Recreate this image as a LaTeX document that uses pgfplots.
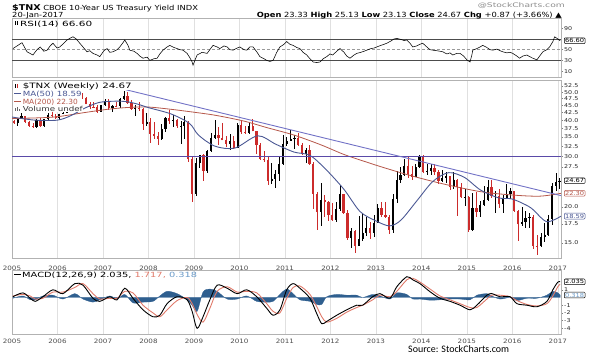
\documentclass[border=0pt]{standalone}
\usepackage{pgfplots}
\pgfplotsset{compat=1.18}
\usepackage{pgfplotstable}
\usepackage{graphicx}
\usepackage{fontspec}
\setmainfont[FakeStretch=1.2]{DejaVu Sans}
\newfontfamily\carlito{Carlito}
\definecolor{ma50}{HTML}{4B5894}
\definecolor{ma200}{HTML}{B5574A}
\definecolor{trend}{HTML}{7272C6}
\definecolor{hline}{HTML}{5A4AA8}
\definecolor{down}{HTML}{CC2B2B}
\definecolor{sig}{HTML}{E07A6A}
\definecolor{hist}{HTML}{2F5F8F}
\definecolor{histlbl}{HTML}{6A9AC8}
\newcommand\fit[3]{\resizebox{#1bp}{#2bp}{\fontsize{7}{8}\selectfont #3}}

\pgfplotstableread{
t o h l c
2005.04 39.8 40.1 38.8 39.0
2005.125 39.0 40.8 38.2 40.5
2005.21 40.5 42.2 40.3 41.3
2005.29 41.3 41.4 39.1 39.5
2005.375 39.5 39.8 38.1 38.2
2005.46 38.2 39.2 37.5 37.8
2005.54 37.8 40.3 37.7 40.0
2005.625 40.0 40.7 38.2 38.3
2005.71 38.3 40.3 38.0 40.3
2005.79 40.3 42.3 40.1 41.8
2005.875 41.8 42.6 41.0 41.4
2005.96 41.4 41.9 40.6 40.7
2006.04 40.7 42.1 40.0 42.1
2006.125 42.1 43.3 41.9 42.5
2006.21 42.5 45.9 42.5 45.6
2006.29 45.6 48.6 45.5 48.0
2006.375 48.0 49.7 47.9 49.2
2006.46 49.2 49.9 47.6 49.3
2006.54 49.3 49.8 47.5 47.9
2006.625 47.9 48.2 45.4 45.4
2006.71 45.4 46.2 43.8 44.4
2006.79 44.4 46.4 43.9 44.3
2006.875 44.3 45.0 42.6 42.8
2006.96 42.8 45.3 42.6 45.1
2007.04 45.1 47.5 44.8 46.6
2007.125 46.6 47.3 43.3 44.0
2007.21 44.0 45.3 42.8 44.9
2007.29 44.9 46.1 44.3 44.7
2007.375 44.7 47.6 44.2 47.2
2007.46 47.2 50.6 47.0 48.4
2007.54 48.4 50.0 45.8 46.0
2007.625 46.0 46.8 43.3 43.8
2007.71 43.8 45.2 41.3 44.2
2007.79 44.2 46.3 43.0 43.8
2007.875 43.8 44.0 36.9 38.7
2007.96 38.7 42.4 38.1 39.5
2008.04 39.5 40.7 33.3 35.9
2008.125 35.9 39.3 34.3 35.2
2008.21 35.2 36.3 32.8 34.5
2008.29 34.5 38.9 34.2 37.3
2008.375 37.3 41.1 36.5 40.6
2008.46 40.6 43.2 38.9 39.7
2008.54 39.7 41.8 37.8 39.9
2008.625 39.9 40.3 37.6 38.1
2008.71 38.1 39.8 33.1 38.3
2008.79 38.3 41.3 34.5 39.4
2008.875 39.4 39.6 28.7 29.3
2008.96 29.3 29.7 20.8 22.2
2009.04 22.2 29.5 21.8 28.5
2009.125 28.5 30.3 27.2 30.2
2009.21 30.2 30.6 24.7 26.7
2009.29 26.7 31.6 26.2 31.3
2009.375 31.3 36.2 31.0 34.7
2009.46 34.7 40.0 34.4 35.4
2009.54 35.4 37.9 32.9 34.8
2009.625 34.8 39.0 34.0 34.0
2009.71 34.0 35.2 32.2 33.1
2009.79 33.1 35.8 31.5 33.9
2009.875 33.9 35.3 31.8 32.0
2009.96 32.0 39.1 32.0 38.4
2010.04 38.4 39.9 35.8 36.3
2010.125 36.3 38.3 35.7 36.1
2010.21 36.1 39.3 35.7 38.3
2010.29 38.3 40.2 36.6 36.6
2010.375 36.6 36.8 30.6 32.9
2010.46 32.9 33.4 29.0 29.3
2010.54 29.3 31.3 28.7 29.0
2010.625 29.0 29.9 23.9 24.7
2010.71 24.7 28.4 24.0 25.1
2010.79 25.1 26.9 23.3 26.0
2010.875 26.0 30.0 24.7 28.1
2010.96 28.1 35.5 27.9 33.0
2011.04 33.0 35.1 32.5 33.8
2011.125 33.8 37.0 33.8 34.3
2011.21 34.3 35.6 31.7 34.7
2011.29 34.7 36.0 32.8 32.9
2011.375 32.9 33.3 30.3 30.6
2011.46 30.6 31.9 28.4 31.6
2011.54 31.6 32.8 27.9 28.2
2011.625 28.2 28.6 19.7 22.2
2011.71 22.2 22.6 16.7 19.2
2011.79 19.2 24.2 17.2 21.2
2011.875 21.2 22.0 18.5 20.8
2011.96 20.8 21.0 17.9 18.8
2012.04 18.8 20.6 17.9 18.0
2012.125 18.0 20.8 17.8 19.7
2012.21 19.7 23.9 19.3 22.1
2012.29 22.1 22.2 18.9 19.1
2012.375 19.1 19.6 15.4 15.6
2012.46 15.6 16.9 14.4 16.5
2012.54 16.5 16.7 13.8 14.7
2012.625 14.7 18.6 14.6 15.5
2012.71 15.5 19.0 15.3 16.3
2012.79 16.3 18.5 15.9 16.9
2012.875 16.9 17.8 15.5 16.2
2012.96 16.2 18.8 15.8 17.6
2013.04 17.6 20.4 17.6 19.9
2013.125 19.9 20.8 18.4 18.8
2013.21 18.8 20.8 18.3 18.5
2013.29 18.5 18.7 16.1 16.7
2013.375 16.7 22.2 16.2 21.3
2013.46 21.3 26.6 20.6 24.9
2013.54 24.9 27.5 24.3 25.8
2013.625 25.8 29.3 25.6 27.8
2013.71 27.8 30.1 25.2 26.1
2013.79 26.1 27.8 24.8 25.5
2013.875 25.5 28.1 25.4 27.5
2013.96 27.5 30.2 27.4 30.0
2014.04 30.0 30.4 26.3 26.4
2014.125 26.4 28.2 25.8 26.6
2014.21 26.6 28.1 25.8 27.2
2014.29 27.2 28.1 25.8 26.5
2014.375 26.5 26.8 24.1 24.7
2014.46 24.7 26.9 24.4 25.3
2014.54 25.3 26.5 24.2 25.6
2014.625 25.6 25.7 22.9 23.4
2014.71 23.4 26.4 23.0 24.9
2014.79 24.9 25.0 18.6 23.4
2014.875 23.4 24.2 21.5 21.6
2014.96 21.6 23.0 20.2 21.7
2015.04 21.7 21.8 16.4 16.6
2015.125 16.6 22.4 16.5 19.9
2015.21 19.9 22.5 18.5 19.2
2015.29 19.2 20.9 18.4 20.3
2015.375 20.3 23.6 20.1 21.2
2015.46 21.2 24.9 21.0 23.5
2015.54 23.5 24.8 21.4 21.8
2015.625 21.8 22.7 19.0 21.9
2015.71 21.9 23.0 19.9 20.4
2015.79 20.4 22.0 19.0 21.4
2015.875 21.4 24.0 21.3 22.1
2015.96 22.1 23.2 21.3 22.7
2016.04 22.7 22.8 19.3 19.4
2016.125 19.4 19.6 15.3 17.4
2016.21 17.4 20.0 17.2 17.7
2016.29 17.7 19.4 16.9 18.3
2016.375 18.3 19.0 16.9 18.5
2016.46 18.5 18.8 14.3 14.7
2016.54 14.7 16.0 13.6 14.6
2016.625 14.6 16.3 14.5 15.8
2016.71 15.8 17.6 15.1 16.0
2016.79 16.0 18.7 15.9 18.2
2016.875 18.2 24.3 17.3 23.7
2016.96 23.7 26.2 22.7 24.4
2017.035 24.4 25.3 23.1 24.67
}\price

\pgfplotstableread{
t v
2005.00 41.0
2005.50 40.0
2006.00 40.0
2006.30 41.5
2006.60 44.0
2006.90 46.0
2007.20 46.5
2007.50 46.4
2007.75 45.5
2008.00 44.2
2008.50 42.0
2008.90 39.0
2009.10 35.5
2009.46 32.5
2009.90 32.0
2010.40 35.3
2010.80 33.0
2011.20 31.0
2011.55 30.2
2011.90 27.0
2012.30 23.0
2012.65 19.3
2013.00 17.9
2013.30 17.2
2013.55 18.0
2013.90 21.0
2014.25 24.5
2014.60 26.3
2014.95 25.3
2015.30 22.9
2015.70 21.5
2016.00 21.3
2016.40 19.9
2016.75 17.8
2017.07 18.59
}\mafifty

\pgfplotstableread{
t v
2005.00 40.5
2005.70 40.8
2006.05 41.2
2006.60 42.5
2007.15 43.7
2007.60 44.3
2008.00 44.4
2008.50 43.6
2009.10 42.4
2009.50 41.5
2010.10 39.7
2010.60 37.7
2011.20 35.5
2011.80 32.8
2012.30 30.4
2012.80 28.6
2013.20 27.3
2013.80 25.6
2014.50 24.0
2015.30 22.6
2016.00 22.0
2016.60 21.8
2017.07 22.3
}\matwohundred

\pgfplotstableread{
t v
2005.02 52
2005.13 58
2005.22 63
2005.33 46
2005.46 40
2005.55 50
2005.62 55
2005.70 47
2005.77 49
2005.84 57
2005.90 62
2005.99 53
2006.05 55
2006.14 62
2006.21 68
2006.27 71
2006.34 74
2006.41 70
2006.49 62
2006.58 53
2006.65 46
2006.71 48
2006.78 43
2006.87 40
2006.93 37
2007.02 48
2007.09 52
2007.15 45
2007.22 46
2007.31 50
2007.37 55
2007.44 63
2007.48 68
2007.55 58
2007.59 49
2007.68 47
2007.75 43
2007.81 38
2007.88 34
2007.97 36
2008.03 30
2008.12 33
2008.19 34
2008.25 42
2008.32 49
2008.41 55
2008.47 58
2008.56 54
2008.63 52
2008.69 50
2008.76 49
2008.85 43
2008.91 35
2008.96 27
2008.98 21
2009.02 30
2009.07 40
2009.18 45
2009.29 43
2009.35 50
2009.42 58
2009.51 55
2009.57 52
2009.66 57
2009.73 55
2009.79 50
2009.86 49
2009.95 53
2010.01 55
2010.10 50
2010.16 49
2010.23 55
2010.30 55
2010.38 46
2010.45 37
2010.54 33
2010.60 30
2010.67 28
2010.74 30
2010.82 45
2010.89 55
2010.98 60
2011.04 65
2011.11 60
2011.18 58
2011.26 54
2011.33 52
2011.40 45
2011.48 40
2011.55 33
2011.62 27
2011.70 26
2011.77 27
2011.84 33
2011.92 37
2011.99 42
2012.05 40
2012.14 47
2012.21 52
2012.30 45
2012.36 38
2012.43 34
2012.52 40
2012.58 43
2012.67 45
2012.74 47
2012.80 49
2012.89 52
2012.96 53
2013.02 55
2013.11 58
2013.18 60
2013.24 62
2013.33 66
2013.40 70
2013.46 71
2013.55 69
2013.62 67
2013.68 68
2013.75 62
2013.81 55
2013.90 57
2013.97 60
2014.03 62
2014.12 55
2014.19 50
2014.25 49
2014.34 48
2014.41 47
2014.47 46
2014.56 42
2014.63 44
2014.69 40
2014.78 43
2014.85 43
2014.93 38
2015.00 31
2015.07 27
2015.11 40
2015.13 49
2015.22 52
2015.29 55
2015.35 58
2015.44 54
2015.51 50
2015.57 49
2015.66 51
2015.73 48
2015.79 46
2015.88 44
2015.95 45
2016.01 43
2016.10 38
2016.16 34
2016.23 38
2016.32 40
2016.38 37
2016.45 34
2016.54 31
2016.60 38
2016.67 46
2016.76 50
2016.82 55
2016.89 65
2016.93 74
2017.00 70
2017.05 66.6
}\rsi

\pgfplotstableread{
t m s h
2005.02 0.1 0.2 -0.1
2005.24 0.6 0.4 0.2
2005.40 -0.1 0.2 -0.3
2005.51 -0.5 -0.2 -0.3
2005.68 0.1 -0.1 0.2
2005.90 1.0 0.7 0.3
2006.12 0.5 0.7 -0.2
2006.38 1.8 1.3 0.5
2006.56 1.6 1.8 -0.2
2006.78 -0.1 0.5 -0.6
2006.93 -0.5 -0.2 -0.3
2007.15 0.1 -0.1 0.2
2007.31 -0.3 -0.1 -0.2
2007.48 1.2 0.8 0.4
2007.66 -0.1 0.6 -0.7
2007.88 -1.6 -1.0 -0.6
2008.10 -2.5 -2.0 -0.5
2008.25 -2.3 -2.5 0.2
2008.41 -0.8 -1.6 0.8
2008.63 0.1 -0.4 0.5
2008.85 -0.3 0.0 -0.3
2008.96 -1.8 -0.8 -1.0
2009.07 -4.0 -2.2 -1.8
2009.20 -2.5 -3.2 0.7
2009.35 -0.3 -1.4 1.1
2009.51 1.6 0.8 0.8
2009.73 1.2 1.4 -0.2
2009.95 0.5 0.7 -0.2
2010.16 1.0 0.8 0.2
2010.38 0.1 0.6 -0.5
2010.60 -1.4 -0.8 -0.6
2010.74 -2.3 -1.8 -0.5
2010.89 -1.6 -2.0 0.4
2011.04 1.0 -0.1 1.1
2011.18 1.8 1.3 0.5
2011.33 1.2 1.5 -0.3
2011.55 -0.1 0.4 -0.5
2011.70 -2.1 -1.2 -0.9
2011.81 -3.4 -2.5 -0.9
2011.92 -3.1 -3.2 0.1
2012.14 -2.3 -2.7 0.4
2012.36 -1.6 -1.9 0.3
2012.58 -1.0 -1.3 0.3
2012.71 -1.0 -1.0 0.0
2012.93 0.1 -0.3 0.4
2013.09 0.5 0.3 0.2
2013.31 -0.1 0.1 -0.2
2013.46 1.4 0.8 0.6
2013.68 2.7 2.3 0.4
2013.81 2.3 2.5 -0.2
2013.97 1.8 2.0 -0.2
2014.19 0.75 1.1 -0.35
2014.41 -0.1 0.2 -0.3
2014.63 -0.5 -0.3 -0.2
2014.85 -1.0 -0.8 -0.2
2015.07 -1.6 -1.3 -0.3
2015.22 -1.0 -1.3 0.3
2015.44 0.3 -0.2 0.5
2015.55 0.5 0.3 0.2
2015.73 0.1 0.3 -0.2
2015.95 0.1 0.1 0.0
2016.10 -0.8 -0.4 -0.4
2016.32 -1.0 -0.9 -0.1
2016.54 -1.2 -1.1 -0.1
2016.76 -0.5 -0.8 0.3
2016.89 1.0 0.2 0.8
2017.00 2.0 1.4 0.6
2017.05 2.035 1.717 0.318
}\macd

\pgfplotsset{
  panel/.style={scale only axis, width=549bp, xmin=2005, xmax=2017.07,
    axis line style={draw=black!30, line width=0.5bp},
    xmajorgrids, grid style={draw=black!12, line width=0.4bp},
    xtick={2005,2006,2007,2008,2009,2010,2011,2012,2013,2014,2015,2016,2017},
    xtick style={draw=none},
    ytick pos=right, yticklabel pos=right,
    ytick style={draw=black!50, line width=0.4bp},
    major tick length=2bp, tick align=outside,
    yticklabel style={font=\fontsize{5.3}{6}\selectfont, text=black!85, inner sep=1bp},
    xticklabel style={font=\fontsize{6}{7}\selectfont, text=black!70},
    clip mode=individual},
}
\tikzset{
  labbox/.style={draw=#1, text=#1, fill=white, rounded corners=1bp, inner sep=0.8bp,
    anchor=west, xshift=3bp, font=\fontsize{5.6}{6}\selectfont, line width=0.5bp},
  leg/.style={anchor=base west, inner sep=0.6bp, fill=white},
}

\begin{document}
\begin{tikzpicture}[x=1bp,y=1bp]
\path[use as bounding box] (0,0) rectangle (595,357);

% ---------------- RSI panel
\begin{axis}[panel, at={(12bp,280bp)}, anchor=south west, height=59bp,
  ymin=-1, ymax=109, ytick={10,30,50,90}, yticklabels={10,30,50,90},
  xticklabels={}]
\addplot[black!70, line width=0.6bp] coordinates {(2005,70) (2017.07,70)};
\addplot[black!70, line width=0.6bp] coordinates {(2005,30) (2017.07,30)};
\addplot[black!40, line width=0.5bp, dash pattern=on 3bp off 2bp] coordinates {(2005,50) (2017.07,50)};
\addplot[black, line width=0.55bp] table[x=t,y=v] {\rsi};
\node[labbox=black] at (axis cs:2017.07,66.6) {66.60};
\end{axis}

% ---------------- Price panel
\begin{axis}[panel, at={(12bp,99bp)}, anchor=south west, height=178bp,
  ymode=log, ymin=13.31, ymax=55.1, yminorticks=false,
  ytick={15,17.5,20,27.5,30,32.5,35,37.5,40,42.5,45,47.5,50,52.5},
  yticklabels={15.0,17.5,20.0,27.5,30.0,32.5,35.0,37.5,40.0,42.5,45.0,47.5,50.0,52.5},
  xticklabels={2005,2006,2007,2008,2009,2010,2011,2012,2013,2014,2015,2016,2017},
  xticklabel style={yshift=-3bp}]
% up candles
\addplot[draw=none, restrict expr to domain={\thisrow{c}-\thisrow{o}}{0:1000},
  error bars/.cd, y dir=both, y explicit, error mark=none,
  error bar style={line width=0.5bp, draw=black}]
  table[x=t, y=c, y error plus expr=\thisrow{h}-\thisrow{c}, y error minus expr=\thisrow{c}-\thisrow{l}] {\price};
\addplot[draw=none, restrict expr to domain={\thisrow{c}-\thisrow{o}}{0:1000},
  error bars/.cd, y dir=minus, y explicit, error mark=none,
  error bar style={line width=2.2bp, draw=black}]
  table[x=t, y=c, y error minus expr=\thisrow{c}-\thisrow{o}] {\price};
% down candles
\addplot[draw=none, restrict expr to domain={\thisrow{c}-\thisrow{o}}{-1000:-0.00001},
  error bars/.cd, y dir=both, y explicit, error mark=none,
  error bar style={line width=0.5bp, draw=down}]
  table[x=t, y=c, y error plus expr=\thisrow{h}-\thisrow{c}, y error minus expr=\thisrow{c}-\thisrow{l}] {\price};
\addplot[draw=none, restrict expr to domain={\thisrow{c}-\thisrow{o}}{-1000:-0.00001},
  error bars/.cd, y dir=plus, y explicit, error mark=none,
  error bar style={line width=2.2bp, draw=down}]
  table[x=t, y=c, y error plus expr=\thisrow{o}-\thisrow{c}] {\price};
% moving averages and lines
\addplot[ma200, line width=0.8bp, smooth] table[x=t,y=v] {\matwohundred};
\addplot[ma50, line width=0.9bp, smooth] table[x=t,y=v] {\mafifty};
\addplot[hline, line width=0.8bp] coordinates {(2005,30) (2017.07,30)};
\addplot[trend, line width=0.9bp] coordinates {(2007.5,51.0) (2017.07,21.9)};
\node[labbox=black] at (axis cs:2017.07,24.67) {24.67};
\node[labbox=ma200] at (axis cs:2017.07,22.30) {22.30};
\node[labbox=ma50] at (axis cs:2017.07,18.59) {18.59};
\end{axis}

% ---------------- MACD panel
\begin{axis}[panel, at={(12bp,23bp)}, anchor=south west, height=64bp,
  ymin=-4.74, ymax=3.57, ytick={-4,-3,-2,-1,1}, yticklabels={-4,-3,-2,-1,1},
  xticklabels={2005,2006,2007,2008,2009,2010,2011,2012,2013,2014,2015,2016,2017}]
\addplot[fill=hist, draw=hist, line width=0.3bp, smooth] table[x=t,y=h] {\macd} \closedcycle;
\addplot[sig, line width=0.9bp, smooth] table[x=t,y=s] {\macd};
\addplot[black, line width=0.9bp, smooth] table[x=t,y=m] {\macd};
\node[labbox=black] at (axis cs:2017.07,2.035) {2.035};
\node[labbox=black, text=histlbl] at (axis cs:2017.07,0.318) {0.318};
\end{axis}

% ---------------- header texts
\node[anchor=base west, inner sep=0] at (12,347) {{\fontsize{8}{9}\selectfont\bfseries \$TNX}\hspace{2.5bp}{\fontsize{7}{8}\selectfont CBOE 10-Year US Treasury Yield INDX}};
\node[anchor=base west, inner sep=0] at (12,339.5) {\fontsize{7}{8}\selectfont 20-Jan-2017};
\node[anchor=base east, inner sep=0, text=black!45] at (565,349) {\fit{87}{4.8}{@StockCharts.com}};
\node[anchor=base east, inner sep=0] at (562,339.7) {\fit{305}{5.4}{\textbf{Open} 23.33 \textbf{High} 25.13 \textbf{Low} 23.13 \textbf{Close} 24.67 \textbf{Chg} +0.87 (+3.66\%) ▲}};

% RSI legend
\fill[black] (15,331.5) rectangle (16.2,335.5);
\fill[black] (17.2,332) rectangle (18.4,336);
\node[anchor=base west, inner sep=0] at (20,331) {\fit{72}{5.4}{RSI(14) 66.60}};

% price legend
\node[leg] at (22,269) {\fit{109}{5.6}{\$TNX (Weekly) 24.67}};
\fill[black] (15,269) rectangle (16.2,273);
\fill[down] (17.2,269.5) rectangle (18.4,273.5);
\node[leg, text=ma50] at (22,261) {\fit{59}{5.4}{MA(50) 18.59}};
\draw[ma50, line width=0.8bp] (14,263.5) -- (21,263.5);
\node[leg, text=ma200] at (22,253) {\fit{55}{5.4}{MA(200) 22.30}};
\draw[ma200, line width=0.8bp] (14,255.5) -- (21,255.5);
\node[leg, text=black!80] at (22,246) {\fit{60}{5.2}{Volume undef}};
\fill[black!60] (15,246) rectangle (16,249);
\fill[black!60] (17,246) rectangle (18,250);
\fill[black!60] (19,246) rectangle (20,248);

% MACD legend
\draw[black, line width=0.9bp] (14,82.5) -- (21,82.5);
\node[anchor=base west, inner sep=0] at (22,80) {\fit{175}{5.4}{MACD(12,26,9) 2.035, \textcolor{sig}{1.717,} \textcolor{histlbl}{0.318}}};

% source
\node[anchor=base west, inner sep=0] at (408,4.5) {\carlito\fontsize{10}{12}\selectfont Source: StockCharts.com};
\end{tikzpicture}
\end{document}
